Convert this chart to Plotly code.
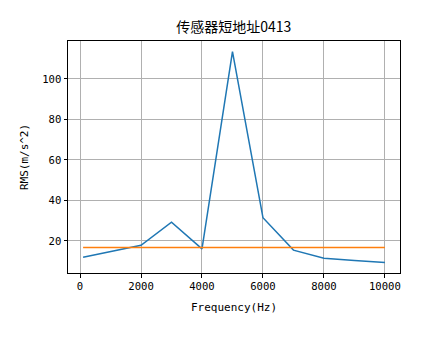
import plotly.graph_objects as go

freq = [100, 1000, 2000, 3000, 4000, 5000, 6000, 7000, 8000, 9000, 10000]
rms = [11.9, 14.6, 17.8, 29.2, 16.0, 113.5, 31.4, 15.4, 11.4, 10.3, 9.3]
threshold_x = [100, 10000]
threshold_y = [16.7, 16.7]

x_ticks = [0, 2000, 4000, 6000, 8000, 10000]
x_tick_text = ["0", "2000", "4000", "6000", "8000", "10000"]
y_ticks = [20, 40, 60, 80, 100]
y_tick_text = ["20", "40", "60", "80", "100"]

title_font = "Noto Sans CJK SC, sans-serif"
mono_font = "DejaVu Sans Mono, Liberation Mono, monospace"

fig = go.Figure()
fig.add_trace(go.Scatter(x=freq, y=rms, mode="lines",
                         line=dict(color="#1f77b4", width=1.5), showlegend=False))
fig.add_trace(go.Scatter(x=threshold_x, y=threshold_y, mode="lines",
                         line=dict(color="#ff7f0e", width=1.5), showlegend=False))

axis_common = dict(
    showgrid=True, gridcolor="#b0b0b0", gridwidth=0.8,
    showline=True, linecolor="black", linewidth=1, mirror=True,
    ticks="outside", ticklen=3.5, tickwidth=0.8, tickcolor="black",
    zeroline=False, tickfont=dict(family=mono_font, size=10.6, color="black"),
)

fig.update_layout(
    width=444, height=341,
    margin=dict(l=67.5, r=44, t=41, b=68),
    paper_bgcolor="white", plot_bgcolor="white",
    title=dict(text="传感器短地址0413", x=(67.5 + 400) / 2 / 444, xanchor="center",
               y=1 - 27 / 341, yanchor="middle",
               font=dict(family=title_font, size=14, color="black")),
    xaxis=dict(range=[-395, 10495], tickvals=x_ticks, ticktext=x_tick_text,
               title=dict(text="Frequency(Hz)", standoff=12,
                          font=dict(family=mono_font, size=11, color="black")),
               **axis_common),
    yaxis=dict(range=[4.1, 118.7], tickvals=y_ticks, ticktext=y_tick_text,
               title=dict(text="RMS(m/s^2)", standoff=11,
                          font=dict(family=mono_font, size=11, color="black")),
               **axis_common),
)

fig.write_html("out.html")
